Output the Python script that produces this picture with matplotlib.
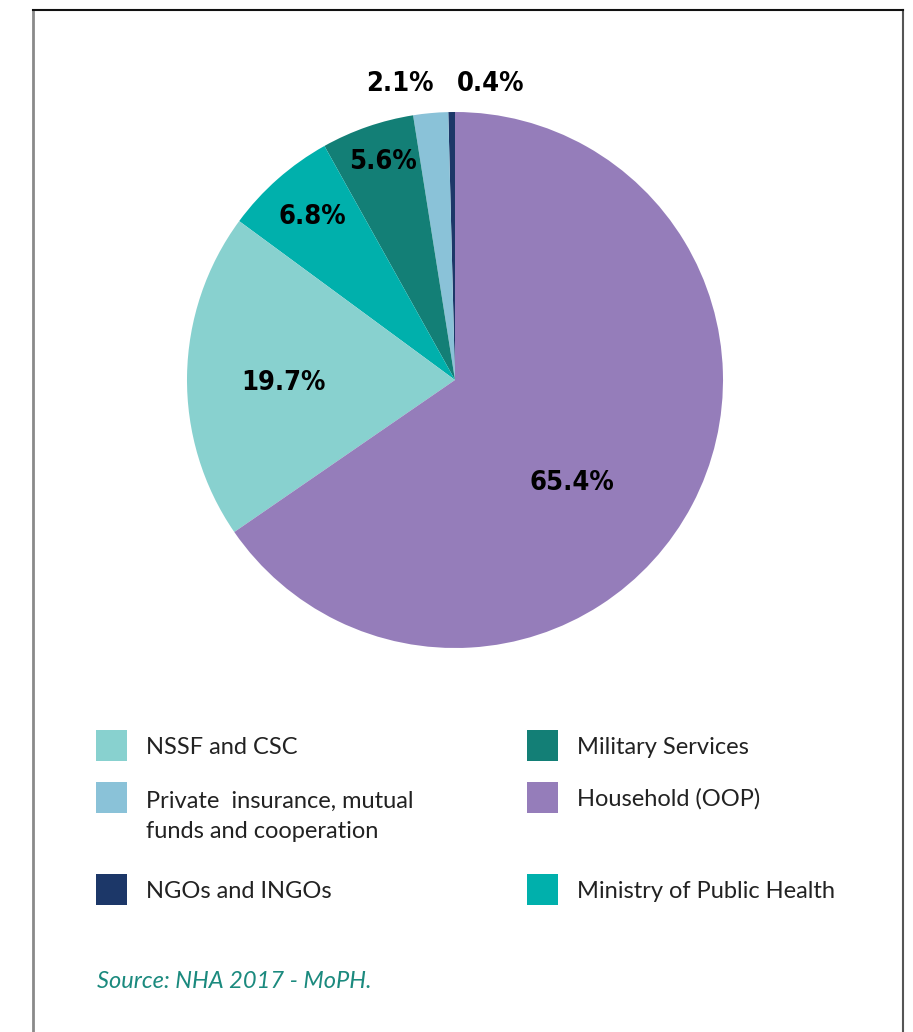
import matplotlib
matplotlib.use("Agg")
import matplotlib.pyplot as plt
from matplotlib.patches import Rectangle
from matplotlib.lines import Line2D

# ---- data (counter-clockwise from 12 o'clock) ----
categories = ["NGOs and INGOs", "Private  insurance, mutual\nfunds and cooperation",
              "Military Services", "Ministry of Public Health", "NSSF and CSC",
              "Household (OOP)"]
shares = [0.4, 2.1, 5.6, 6.8, 19.7, 65.4]
pct_labels = ["0.4%", "2.1%", "5.6%", "6.8%", "19.7%", "65.4%"]
colors = ["#1C3768", "#8AC2D8", "#137F76", "#00B0AC", "#88D1CF", "#957DBA"]

# legend order: column 1 then column 2
legend_col1 = [4, 1, 0]
legend_col2 = [2, 5, 3]

W, H = 913, 1032
fig = plt.figure(figsize=(W / 100, H / 100), dpi=100)
fig.patch.set_facecolor("white")

# pie axes: center (455,380) px, radius 268 px
cx, cy, R = 455, 380, 268
ax = fig.add_axes([(cx - R) / W, 1 - (cy + R) / H, 2 * R / W, 2 * R / H])
ax.pie(shares, colors=colors, startangle=90, counterclock=True, radius=1,
       wedgeprops=dict(linewidth=0))
ax.set_xlim(-1, 1)
ax.set_ylim(-1, 1)
ax.set_aspect("auto")
ax.axis("off")

# label positions (data coords, pie radius = 1)
label_pos = [(0.134, 1.104), (-0.205, 1.104), (-0.269, 0.813),
             (-0.534, 0.608), (-0.642, -0.011), (0.437, -0.384)]
for txt, (x, y) in zip(pct_labels, label_pos):
    ax.text(x, y, txt, ha="center", va="center", fontsize=19.5,
            fontweight="bold", fontstretch="condensed", family="DejaVu Sans",
            color="black", clip_on=False)

# frame
def fx(px):
    return px / W

def fy(py):
    return 1 - py / H

fig.add_artist(Line2D([fx(33), fx(33)], [fy(10), fy(H + 5)], color="#8a8a8a", lw=2.0))
fig.add_artist(Line2D([fx(903), fx(903)], [fy(10), fy(H + 5)], color="#555555", lw=1.5))
fig.add_artist(Line2D([fx(33), fx(903)], [fy(10), fy(10)], color="#111111", lw=1.5))

# legend (manual)
sq = 31
rows_y = [745, 797, 889]
def draw_col(indices, x_sq, x_txt):
    for idx, yc in zip(indices, rows_y):
        fig.add_artist(Rectangle((fx(x_sq), fy(yc + sq / 2)), sq / W, sq / H,
                                 facecolor=colors[idx], edgecolor="none"))
        label = categories[idx]
        if "\n" in label:
            fig.text(fx(x_txt), fy(yc - 6), label, ha="left", va="top",
                     fontsize=17, family=["Lato", "DejaVu Sans"], color="#222222",
                     linespacing=1.5)
        else:
            fig.text(fx(x_txt), fy(yc + 2), label, ha="left", va="center",
                     fontsize=17, family=["Lato", "DejaVu Sans"], color="#222222")

draw_col(legend_col1, 96, 146)
draw_col(legend_col2, 527, 577)

# source
fig.text(fx(97), fy(981), "Source: NHA 2017 - MoPH.", ha="left", va="center",
         fontsize=17, style="italic", family=["Lato", "DejaVu Sans"],
         color="#1B8A7E")

fig.savefig("out.png", dpi=100, facecolor="white")
